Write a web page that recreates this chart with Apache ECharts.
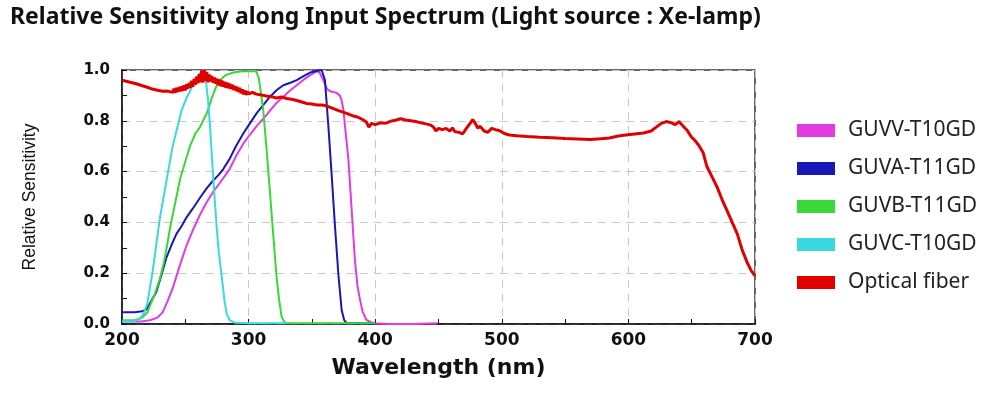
<!DOCTYPE html>
<html><head><meta charset="utf-8">
<script src="https://cdn.jsdelivr.net/npm/echarts@6/dist/echarts.min.js"></script>
<style>html,body{margin:0;padding:0;background:#fff}#c{width:1000px;height:395px}</style>
</head><body><div id="c"></div>
<script>
const titleText = 'Relative Sensitivity along Input Spectrum (Light source : Xe-lamp)';
const xName = 'Wavelength (nm)';
const yName = 'Relative Sensitivity';
const seriesNames = ['GUVV-T10GD', 'GUVA-T11GD', 'GUVB-T11GD', 'GUVC-T10GD', 'Optical fiber'];

const guvvNm  = [200,215,222,228,232,236,240,245,251,256,261.6,267,272,278,285,290,295.8,301,306.4,312,316.9,322,327.4,333,338,343,348.5,353.8,356,359,362,365,369.5,372,373.5,375,376.1,378.8,381.4,384,386,388,390,393,397,400,410,430,449];
const guvvVal = [0.01,0.01,0.015,0.025,0.045,0.09,0.14,0.22,0.31,0.37,0.43,0.48,0.52,0.56,0.61,0.66,0.71,0.745,0.78,0.81,0.84,0.87,0.895,0.92,0.94,0.96,0.98,0.995,0.99,0.96,0.925,0.915,0.91,0.90,0.88,0.84,0.78,0.65,0.45,0.25,0.15,0.095,0.05,0.016,0.006,0.003,0.0,0.0,0.003];

const guvaNm  = [200,210,216,219.5,223,227,231,235,239,243,247,251,256,262,267,272,276,280,285,290,295.8,301,306.4,312,316.9,322,327.4,333,338,343,348.5,353,357.7,360.3,363,365.7,368.3,371,373.5,375.5,377.5,400];
const guvaVal = [0.046,0.046,0.05,0.058,0.09,0.125,0.19,0.26,0.31,0.355,0.385,0.42,0.455,0.50,0.535,0.565,0.585,0.61,0.65,0.70,0.75,0.79,0.83,0.865,0.895,0.92,0.94,0.95,0.96,0.975,0.99,0.995,1.0,0.96,0.78,0.58,0.38,0.19,0.055,0.015,0.003,0.003];

const guvbNm  = [200,210,216,220,222,226,230,233,235.3,238,240.5,243,245.8,250,253.7,258,261.6,265,267,269,271,274,277.4,282,288,295,306,308,310,311.6,314,317,319.5,322,324,326,328,330,360,400];
const guvbVal = [0.015,0.015,0.025,0.045,0.07,0.12,0.18,0.24,0.30,0.38,0.44,0.50,0.57,0.64,0.70,0.75,0.775,0.81,0.83,0.86,0.89,0.93,0.96,0.98,0.99,0.995,0.995,0.97,0.90,0.84,0.70,0.51,0.35,0.19,0.10,0.03,0.01,0.003,0.003,0.003];

const guvcNm  = [200,210,214,217,220,224,227,230,235,240,243,247,251,255,258,262,264.5,266,268,269.5,272,274.8,276.5,278.7,281,282.7,285,289,300,320,330];
const guvcVal = [0.01,0.012,0.02,0.04,0.08,0.20,0.31,0.42,0.56,0.70,0.76,0.84,0.89,0.93,0.96,0.99,1.0,0.97,0.88,0.78,0.58,0.38,0.28,0.19,0.09,0.04,0.015,0.005,0.003,0.003,0.003];

const fiberNm  = [200,204,208,212,216,220,224,228,232,236,
  240,241,242,243,244,245,246,247,248,249,250,251,252,253,254,255,256,257,258,259,260,261,262,263,264,265,266,267,268,269,
  270,271,272,273,274,275,276,277,278,279,280,281,282,283,284,285,286,287,288,289,290,291,292,293,294,295,296,297,298,299,300,
  303,306,310,314,318,322,326,330,334,338,342,346,350,354,358,362,366,370,374,378,382,386,390,393,395,397,400,404,408,412,416,420,424,428,432,436,440,444,446,448,450,453,456,459,461,463,466,469,472,475,477,479,481,483,486,489,492,495,498,502,506,512,520,530,540,550,560,570,578,585,592,598,605,612,618,622,626,630,634,637,640,643,646,650,653,656,659,662,666,670,674,678,682,686,690,694,697,700];
const fiberVal = [0.960,0.955,0.950,0.945,0.938,0.932,0.925,0.920,0.916,0.917,
  0.912,0.926,0.910,0.930,0.914,0.932,0.916,0.936,0.918,0.940,0.920,0.944,0.926,0.950,0.930,0.958,0.934,0.966,0.942,0.974,0.948,0.984,0.952,0.998,0.950,1.000,0.958,0.992,0.952,0.982,
  0.955,0.976,0.950,0.970,0.946,0.966,0.940,0.962,0.936,0.958,0.934,0.954,0.930,0.950,0.928,0.946,0.926,0.942,0.922,0.938,0.918,0.934,0.914,0.930,0.908,0.924,0.904,0.920,0.902,0.916,0.906,
  0.912,0.905,0.902,0.898,0.895,0.890,0.894,0.888,0.885,0.880,0.874,0.868,0.866,0.862,0.862,0.858,0.850,0.842,0.835,0.828,0.820,0.815,0.805,0.795,0.775,0.790,0.785,0.792,0.790,0.798,0.802,0.808,0.803,0.800,0.797,0.792,0.788,0.783,0.775,0.760,0.770,0.765,0.770,0.760,0.772,0.757,0.755,0.748,0.770,0.790,0.805,0.790,0.772,0.778,0.760,0.755,0.770,0.765,0.762,0.750,0.744,0.741,0.738,0.735,0.733,0.730,0.728,0.726,0.729,0.732,0.740,0.744,0.748,0.752,0.760,0.775,0.790,0.797,0.792,0.785,0.797,0.780,0.765,0.735,0.720,0.700,0.675,0.620,0.580,0.540,0.490,0.445,0.400,0.355,0.290,0.240,0.210,0.190];

const colors = ['#e23be2', '#1818b8', '#38d838', '#3ad8e0', '#e00000'];
const widths = [2, 2, 2, 2, 3];

function pairs(xs, ys) { return xs.map((x, i) => [x, ys[i]]); }
const dataSets = [pairs(guvvNm, guvvVal), pairs(guvaNm, guvaVal), pairs(guvbNm, guvbVal), pairs(guvcNm, guvcVal), pairs(fiberNm, fiberVal)];

const chart = echarts.init(document.getElementById('c'), null, {renderer: 'canvas'});
const dash = {color: '#c8c8c8', type: [8, 6], width: 1};
chart.setOption({
  backgroundColor: '#fff',
  animation: false,
  title: {
    text: titleText, left: 10, top: 6, padding: 0,
    textStyle: {fontFamily: 'Noto Sans', fontWeight: 'bold', fontSize: 23, color: '#111'}
  },
  legend: {
    orient: 'vertical', left: 792, top: 115, itemWidth: 38, itemHeight: 13, itemGap: 17,
    icon: 'rect', data: seriesNames,
    textStyle: {fontFamily: 'Noto Sans', fontSize: 21, color: '#222', padding: [0, 0, 0, 8]}
  },
  grid: {left: 122, right: 245, top: 70, bottom: 71, show: true, borderColor: '#333', borderWidth: 1.5, backgroundColor: '#fff'},
  xAxis: {
    type: 'value', min: 200, max: 700, interval: 100,
    name: xName, nameLocation: 'middle', nameGap: 33,
    nameTextStyle: {fontFamily: 'DejaVu Sans', fontWeight: 'bold', fontSize: 22, color: '#111'},
    axisLine: {show: true, lineStyle: {color: '#111', width: 1.5}},
    axisTick: {show: true, inside: true, length: 5, lineStyle: {color: '#111'}},
    minorTick: {show: true, splitNumber: 2, length: 5, lineStyle: {color: '#111'}},
    axisLabel: {fontFamily: 'DejaVu Sans', fontWeight: 'bold', fontSize: 17, color: '#111', margin: 8},
    splitLine: {show: true, lineStyle: dash}
  },
  yAxis: {
    type: 'value', min: 0, max: 1, interval: 0.2,
    name: yName, nameLocation: 'middle', nameGap: 83, nameRotate: 90,
    nameTextStyle: {fontFamily: 'Liberation Sans', fontSize: 17.5, color: '#111'},
    axisLine: {show: true, lineStyle: {color: '#111', width: 1.5}},
    axisTick: {show: true, inside: true, length: 5, lineStyle: {color: '#111'}},
    minorTick: {show: true, splitNumber: 2, length: 5, lineStyle: {color: '#111'}},
    axisLabel: {fontFamily: 'DejaVu Sans', fontWeight: 'bold', fontSize: 15, color: '#111', margin: 12,
      formatter: v => v.toFixed(1)},
    splitLine: {show: true, lineStyle: dash}
  },
  series: seriesNames.map((n, i) => ({
    name: n, type: 'line', data: dataSets[i], showSymbol: false, symbol: 'none',
    color: colors[i], lineStyle: {color: colors[i], width: widths[i]}, itemStyle: {color: colors[i]},
    z: i === 4 ? 3 : 2
  }))
});
</script></body></html>
